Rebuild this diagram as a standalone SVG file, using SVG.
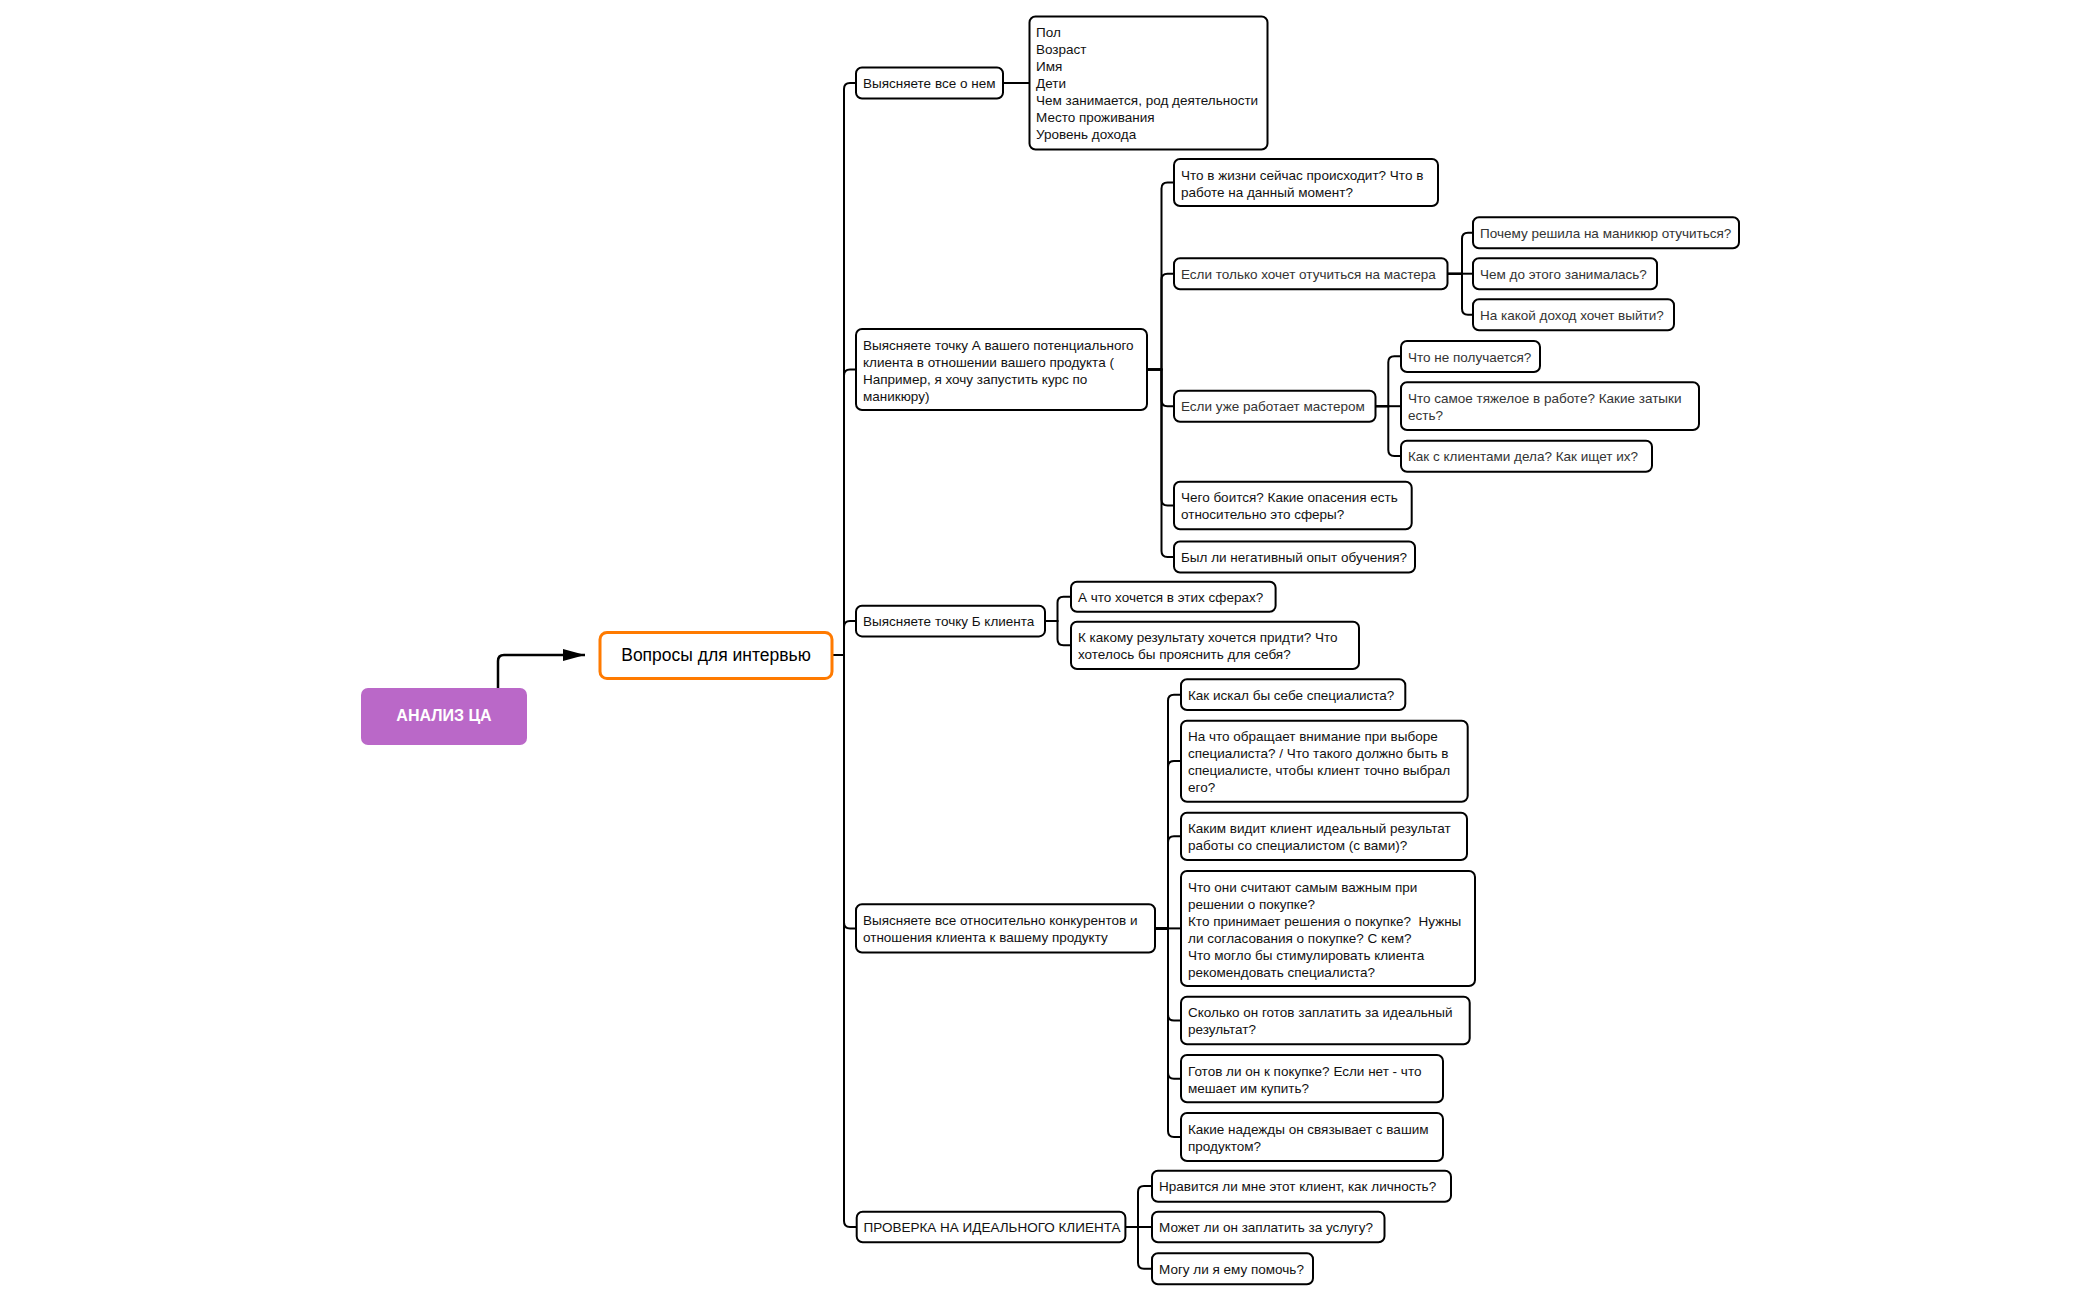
<svg xmlns="http://www.w3.org/2000/svg" width="2100" height="1300" viewBox="0 0 2100 1300">
<defs>
<style>
.box{fill:#fff;stroke:#000;stroke-width:2}
.t{font-family:"Liberation Sans",Arial,sans-serif;font-size:13.5px;fill:#111}
.t2{font-family:"Liberation Sans",Arial,sans-serif;font-size:13.5px;fill:#333}
.c{fill:none;stroke:#000;stroke-width:2}
</style>
<marker id="ah" viewBox="0 0 10 10" refX="10" refY="5" markerWidth="22" markerHeight="12" markerUnits="userSpaceOnUse" orient="auto" preserveAspectRatio="none">
<path d="M0,0 L10,5 L0,10 Z" fill="#000"/>
</marker>
</defs>
<rect width="2100" height="1300" fill="#fff"/>

<g id="connectors">
<path class="c" style="stroke-width:2.5" d="M498,688 V661 Q498,655 504,655 H585" marker-end="url(#ah)"/>
<path class="c" d="M832,655 H844 V89 Q844,83 850,83 H856"/>
<path class="c" d="M832,655 H844 V375.5 Q844,369.5 850,369.5 H856"/>
<path class="c" d="M832,655 H844 V627 Q844,621 850,621 H856"/>
<path class="c" d="M832,655 H844 V922.4 Q844,928.4 850,928.4 H856"/>
<path class="c" d="M832,655 H844 V1221 Q844,1227 850,1227 H856"/>
<path class="c" d="M1003,83 H1029.5"/>
<path class="c" d="M1147,369.5 H1161.5 V188.5 Q1161.5,182.5 1167.5,182.5 H1174"/>
<path class="c" d="M1147,369.5 H1161.5 V279.7 Q1161.5,273.7 1167.5,273.7 H1174"/>
<path class="c" d="M1147,369.5 H1161.5 V400.2 Q1161.5,406.2 1167.5,406.2 H1174"/>
<path class="c" d="M1147,369.5 H1161.5 V499.5 Q1161.5,505.5 1167.5,505.5 H1174"/>
<path class="c" d="M1147,369.5 H1161.5 V551 Q1161.5,557 1167.5,557 H1174"/>
<path class="c" d="M1447.5,273.7 H1462 V238.8 Q1462,232.8 1468,232.8 H1473"/>
<path class="c" d="M1447.5,273.7 H1473"/>
<path class="c" d="M1447.5,273.7 H1462 V308.7 Q1462,314.7 1468,314.7 H1473"/>
<path class="c" d="M1375.5,406.2 H1388.3 V362.3 Q1388.3,356.3 1394.3,356.3 H1401"/>
<path class="c" d="M1375.5,406.2 H1401"/>
<path class="c" d="M1375.5,406.2 H1388.3 V450 Q1388.3,456 1394.3,456 H1401"/>
<path class="c" d="M1045,621 H1057.5 V602.7 Q1057.5,596.7 1063.5,596.7 H1071"/>
<path class="c" d="M1045,621 H1057.5 V639.3 Q1057.5,645.3 1063.5,645.3 H1071"/>
<path class="c" d="M1155,928.4 H1168 V700.7 Q1168,694.7 1174,694.7 H1181"/>
<path class="c" d="M1155,928.4 H1168 V767 Q1168,761 1174,761 H1181"/>
<path class="c" d="M1155,928.4 H1168 V842.3 Q1168,836.3 1174,836.3 H1181"/>
<path class="c" d="M1155,928.4 H1181"/>
<path class="c" d="M1155,928.4 H1168 V1014.5 Q1168,1020.5 1174,1020.5 H1181"/>
<path class="c" d="M1155,928.4 H1168 V1072.7 Q1168,1078.7 1174,1078.7 H1181"/>
<path class="c" d="M1155,928.4 H1168 V1131 Q1168,1137 1174,1137 H1181"/>
<path class="c" d="M1125.4,1227 H1138 V1192 Q1138,1186 1144,1186 H1152"/>
<path class="c" d="M1125.4,1227 H1152"/>
<path class="c" d="M1125.4,1227 H1138 V1262.8 Q1138,1268.8 1144,1268.8 H1152"/>
</g>

<g id="n-analiz">
<rect x="361" y="688" width="166" height="57" rx="7" fill="#BA68C8"/>
<text x="444" y="721" text-anchor="middle" font-family="Liberation Sans, Arial, sans-serif" font-size="16" font-weight="bold" fill="#fff">АНАЛИЗ ЦА</text>
</g>

<g id="n-root">
<rect x="600" y="632.5" width="232" height="46" rx="7" fill="#fff" stroke="#FF7A00" stroke-width="3"/>
<text x="716" y="661" text-anchor="middle" font-family="Liberation Sans, Arial, sans-serif" font-size="17.5" fill="#000">Вопросы для интервью</text>
</g>

<g id="n1">
<rect class="box" x="856" y="67.5" width="147" height="31" rx="6"/>
<text class="t" x="863" y="88">Выясняете все о нем</text>
</g>
<g id="n1-1">
<rect class="box" x="1029.5" y="16.5" width="238" height="133" rx="6"/>
<text class="t" x="1036" y="37">Пол</text>
<text class="t" x="1036" y="54">Возраст</text>
<text class="t" x="1036" y="71">Имя</text>
<text class="t" x="1036" y="88">Дети</text>
<text class="t" x="1036" y="105">Чем занимается, род деятельности</text>
<text class="t" x="1036" y="122">Место проживания</text>
<text class="t" x="1036" y="139">Уровень дохода</text>
</g>

<g id="n2">
<rect class="box" x="856" y="329" width="291" height="81" rx="6"/>
<text class="t" x="863" y="349.5">Выясняете точку А вашего потенциального</text>
<text class="t" x="863" y="366.5">клиента в отношении вашего продукта (</text>
<text class="t" x="863" y="383.5">Например, я хочу запустить курс по</text>
<text class="t" x="863" y="400.5">маникюру)</text>
</g>
<g id="n2-1">
<rect class="box" x="1174" y="159" width="264" height="47" rx="6"/>
<text class="t" x="1181" y="179.5">Что в жизни сейчас происходит? Что в</text>
<text class="t" x="1181" y="196.5">работе на данный момент?</text>
</g>
<g id="n2-2">
<rect class="box" x="1174" y="258.3" width="273.5" height="31" rx="6"/>
<text class="t2" x="1181" y="278.8">Если только хочет отучиться на мастера</text>
</g>
<g id="n2-2-1">
<rect class="box" x="1473" y="217.3" width="266" height="31" rx="6"/>
<text class="t2" x="1480" y="237.8">Почему решила на маникюр отучиться?</text>
</g>
<g id="n2-2-2">
<rect class="box" x="1473" y="258.3" width="184" height="31" rx="6"/>
<text class="t2" x="1480" y="278.8">Чем до этого занималась?</text>
</g>
<g id="n2-2-3">
<rect class="box" x="1473" y="299.3" width="201" height="31" rx="6"/>
<text class="t2" x="1480" y="319.8">На какой доход хочет выйти?</text>
</g>
<g id="n2-3">
<rect class="box" x="1174" y="390.7" width="201.5" height="31" rx="6"/>
<text class="t2" x="1181" y="411.2">Если уже работает мастером</text>
</g>
<g id="n2-3-1">
<rect class="box" x="1401" y="341" width="139" height="31" rx="6"/>
<text class="t2" x="1408" y="361.5">Что не получается?</text>
</g>
<g id="n2-3-2">
<rect class="box" x="1401" y="382.3" width="298" height="47.7" rx="6"/>
<text class="t2" x="1408" y="402.8">Что самое тяжелое в работе? Какие затыки</text>
<text class="t2" x="1408" y="419.8">есть?</text>
</g>
<g id="n2-3-3">
<rect class="box" x="1401" y="440.7" width="251" height="31" rx="6"/>
<text class="t2" x="1408" y="461.2">Как с клиентами дела? Как ищет их?</text>
</g>
<g id="n2-4">
<rect class="box" x="1174" y="481.7" width="237.7" height="47.6" rx="6"/>
<text class="t" x="1181" y="502.2">Чего боится? Какие опасения есть</text>
<text class="t" x="1181" y="519.2">относительно это сферы?</text>
</g>
<g id="n2-5">
<rect class="box" x="1174" y="541.5" width="241" height="31" rx="6"/>
<text class="t" x="1181" y="562">Был ли негативный опыт обучения?</text>
</g>

<g id="n3">
<rect class="box" x="856" y="605.7" width="189" height="30.7" rx="6"/>
<text class="t" x="863" y="626">Выясняете точку Б клиента</text>
</g>
<g id="n3-1">
<rect class="box" x="1071" y="581.7" width="204.6" height="30" rx="6"/>
<text class="t" x="1078" y="601.7">А что хочется в этих сферах?</text>
</g>
<g id="n3-2">
<rect class="box" x="1071" y="621.7" width="288" height="47.3" rx="6"/>
<text class="t" x="1078" y="642">К какому результату хочется придти? Что</text>
<text class="t" x="1078" y="659">хотелось бы прояснить для себя?</text>
</g>

<g id="n4">
<rect class="box" x="856" y="904.3" width="299" height="48.2" rx="6"/>
<text class="t" x="863" y="924.8">Выясняете все относительно конкурентов и</text>
<text class="t" x="863" y="941.8">отношения клиента к вашему продукту</text>
</g>
<g id="n4-1">
<rect class="box" x="1181" y="679.3" width="224.3" height="30.7" rx="6"/>
<text class="t" x="1188" y="699.6">Как искал бы себе специалиста?</text>
</g>
<g id="n4-2">
<rect class="box" x="1181" y="720.7" width="286.7" height="81" rx="6"/>
<text class="t" x="1188" y="741.2">На что обращает внимание при выборе</text>
<text class="t" x="1188" y="758.2">специалиста? / Что такого должно быть в</text>
<text class="t" x="1188" y="775.2">специалисте, чтобы клиент точно выбрал</text>
<text class="t" x="1188" y="792.2">его?</text>
</g>
<g id="n4-3">
<rect class="box" x="1181" y="812.7" width="286" height="47.3" rx="6"/>
<text class="t" x="1188" y="833.2">Каким видит клиент идеальный результат</text>
<text class="t" x="1188" y="850.2">работы со специалистом (с вами)?</text>
</g>
<g id="n4-4">
<rect class="box" x="1181" y="871" width="294" height="115" rx="6"/>
<text class="t" x="1188" y="891.5">Что они считают самым важным при</text>
<text class="t" x="1188" y="908.5">решении о покупке?</text>
<text class="t" x="1188" y="925.5" xml:space="preserve">Кто принимает решения о покупке?  Нужны</text>
<text class="t" x="1188" y="942.5">ли согласования о покупке? С кем?</text>
<text class="t" x="1188" y="959.5">Что могло бы стимулировать клиента</text>
<text class="t" x="1188" y="976.5">рекомендовать специалиста?</text>
</g>
<g id="n4-5">
<rect class="box" x="1181" y="996.7" width="288.7" height="47.6" rx="6"/>
<text class="t" x="1188" y="1017.2">Сколько он готов заплатить за идеальный</text>
<text class="t" x="1188" y="1034.2">результат?</text>
</g>
<g id="n4-6">
<rect class="box" x="1181" y="1055" width="262" height="47.3" rx="6"/>
<text class="t" x="1188" y="1075.5">Готов ли он к покупке? Если нет - что</text>
<text class="t" x="1188" y="1092.5">мешает им купить?</text>
</g>
<g id="n4-7">
<rect class="box" x="1181" y="1113" width="262" height="48" rx="6"/>
<text class="t" x="1188" y="1133.5">Какие надежды он связывает с вашим</text>
<text class="t" x="1188" y="1150.5">продуктом?</text>
</g>

<g id="n5">
<rect class="box" x="856.7" y="1211.7" width="268.7" height="30.6" rx="6"/>
<text class="t" x="863.5" y="1232">ПРОВЕРКА НА ИДЕАЛЬНОГО КЛИЕНТА</text>
</g>
<g id="n5-1">
<rect class="box" x="1152" y="1170.7" width="299" height="31" rx="6"/>
<text class="t" x="1159" y="1191">Нравится ли мне этот клиент, как личность?</text>
</g>
<g id="n5-2">
<rect class="box" x="1152" y="1211.7" width="232.5" height="30.6" rx="6"/>
<text class="t" x="1159" y="1232">Может ли он заплатить за услугу?</text>
</g>
<g id="n5-3">
<rect class="box" x="1152" y="1253.3" width="161" height="31" rx="6"/>
<text class="t" x="1159" y="1273.8">Могу ли я ему помочь?</text>
</g>
</svg>
